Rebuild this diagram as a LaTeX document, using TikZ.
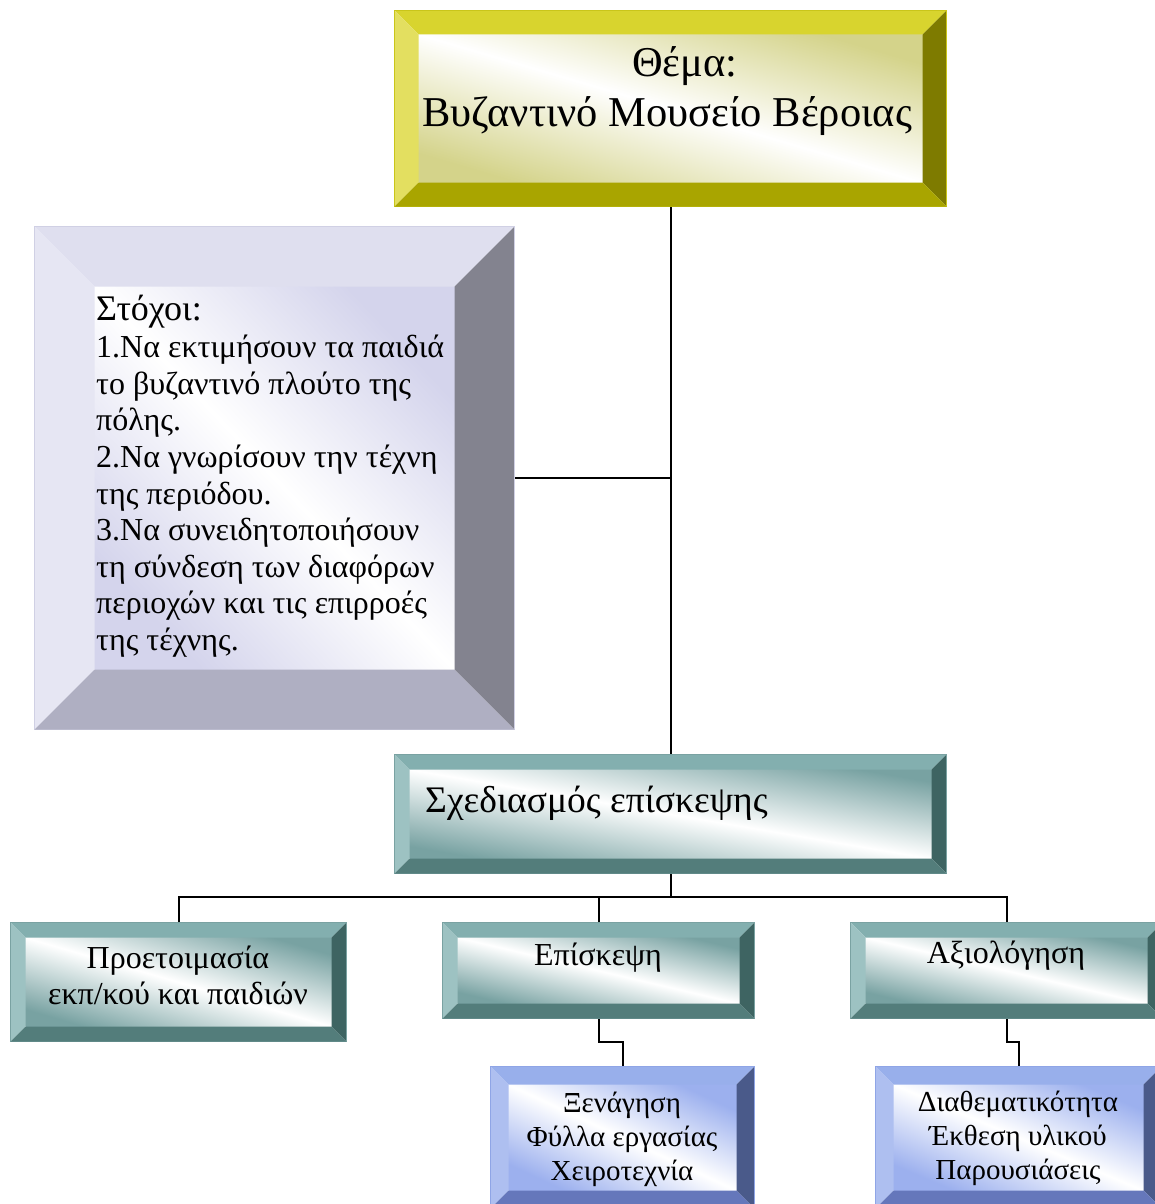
\documentclass[tikz,border=0pt]{standalone}
\usepackage{fontspec}
\setmainfont{Liberation Serif}
\usetikzlibrary{calc}
\definecolor{yT}{HTML}{D8D42E}\definecolor{yL}{HTML}{E3DF60}\definecolor{yR}{HTML}{7E7B00}\definecolor{yB}{HTML}{A9A500}\definecolor{yI}{HTML}{D4D38A}\definecolor{yD}{HTML}{C9C51A}
\definecolor{gT}{HTML}{DFDFEF}\definecolor{gL}{HTML}{E6E6F3}\definecolor{gR}{HTML}{83838F}\definecolor{gB}{HTML}{AFAFC2}\definecolor{gI}{HTML}{D4D4EC}\definecolor{gD}{HTML}{D0D0E4}
\definecolor{tT}{HTML}{83AFAF}\definecolor{tL}{HTML}{9DC2C2}\definecolor{tR}{HTML}{3E6462}\definecolor{tB}{HTML}{537D7B}\definecolor{tI}{HTML}{78A2A2}\definecolor{tD}{HTML}{7AA2A2}
\definecolor{bT}{HTML}{98AFEB}\definecolor{bL}{HTML}{AEBFF0}\definecolor{bR}{HTML}{4A5A8A}\definecolor{bB}{HTML}{6577BB}\definecolor{bI}{HTML}{9CB0EE}\definecolor{bD}{HTML}{8FA5E6}
\tikzset{
  sa/.store in=\shadeang, sa=0,
  bevel/.style n args={6}{rectangle, inner sep=0pt, draw=#6, line width=1pt,
    path picture={
      \coordinate (NW) at (path picture bounding box.north west);
      \coordinate (NE) at (path picture bounding box.north east);
      \coordinate (SW) at (path picture bounding box.south west);
      \coordinate (SE) at (path picture bounding box.south east);
      \coordinate (nw) at ([shift={(#1pt,-#1pt)}]NW);
      \coordinate (ne) at ([shift={(-#1pt,-#1pt)}]NE);
      \coordinate (sw) at ([shift={(#1pt,#1pt)}]SW);
      \coordinate (se) at ([shift={(-#1pt,#1pt)}]SE);
      \shade[top color=#5, bottom color=#5, middle color=white, shading angle=\shadeang] (nw) rectangle (se);
      \fill[#2] (NW) -- (NE) -- (ne) -- (nw) -- cycle;
      \fill[#3] (NW) -- (nw) -- (sw) -- (SW) -- cycle;
      \fill[#4!100] (NE) -- (SE) -- (se) -- (ne) -- cycle;
    }},
  ybox/.style={bevel={24}{yT}{yL}{yR}{yI}{yD}, postaction={path picture={\fill[yB] (SW) -- (SE) -- (se) -- (sw) -- cycle;}}},
  gbox/.style={bevel={60}{gT}{gL}{gR}{gI}{gD}, postaction={path picture={\fill[gB] (SW) -- (SE) -- (se) -- (sw) -- cycle;}}},
  tbox/.style={bevel={15}{tT}{tL}{tR}{tI}{tD}, postaction={path picture={\fill[tB] (SW) -- (SE) -- (se) -- (sw) -- cycle;}}},
  bbox/.style={bevel={18}{bT}{bL}{bR}{bI}{bD}, postaction={path picture={\fill[bB] (SW) -- (SE) -- (se) -- (sw) -- cycle;}}},
  txt/.style={inner sep=0pt, anchor=base, text=black},
  conn/.style={draw=black, line width=2pt},
}
\begin{document}
\begin{tikzpicture}[x=1pt, y=-1pt]
\useasboundingbox (0,0) rectangle (1155,1204);
\fill[white] (0,0) rectangle (1155,1204);
\clip (0,0) rectangle (1155,1204);
\coordinate (bus) at (670,897);
% boxes
\node[sa=-16.4, ybox, minimum width=552pt, minimum height=196pt, anchor=north west] (title) at (394,10) {};
\node[sa=-46.8, gbox, minimum width=480pt, minimum height=503pt, anchor=north west] (goals) at (34,226) {};
\node[sa=-9.7, tbox, minimum width=552pt, minimum height=119pt, anchor=north west] (plan) at (394,754) {};
\node[sa=-16.2, tbox, minimum width=336pt, minimum height=119pt, anchor=north west] (prep) at (10,922) {};
\node[sa=-13.2, tbox, minimum width=312pt, minimum height=96pt, anchor=north west] (visit) at (442,922) {};
\node[sa=-13.2, tbox, minimum width=312pt, minimum height=96pt, anchor=north west] (eval) at (850,922) {};
\node[sa=-24.9, bbox, minimum width=264pt, minimum height=142pt, anchor=north west] (tour) at (490,1066) {};
\node[sa=-23, bbox, minimum width=286pt, minimum height=142pt, anchor=north west] (them) at (875,1066) {};
% connectors
\draw[conn] (title.south) -- (plan.north);
\draw[conn] (goals.east) -- (goals.east -| title.south);
\draw[conn] (plan.south) -- (plan.south |- bus);
\draw[conn] (prep.north) -- (prep.north |- bus) -- (eval.north |- bus) -- (eval.north);
\draw[conn] (visit.north) -- (visit.north |- bus);
\draw[conn] (visit.south) -- (visit.south |- 0,1042) -- (tour.north |- 0,1042) -- (tour.north);
\draw[conn] (eval.south) -- (eval.south |- 0,1042) -- (them.north |- 0,1042) -- (them.north);
% texts
\node[txt, font=\fontsize{42.5}{49}\selectfont] (tt1) at (685,77) {Θέμα:};
\node[txt, font=\fontsize{42.5}{49}\selectfont] (tt2) at (667,127) {Βυζαντινό Μουσείο Βέροιας};
\node[txt, anchor=base west, font=\fontsize{36}{40}\selectfont] (g0) at (96,320) {Στόχοι:};
\foreach \t [count=\i] in {1.Να εκτιμήσουν τα παιδιά, το βυζαντινό πλούτο της, πόλης., 2.Να γνωρίσουν την τέχνη, της περιόδου., 3.Να συνειδητοποιήσουν, τη σύνδεση των διαφόρων, περιοχών και τις επιρροές, της τέχνης.}
  \node[txt, anchor=base west, font=\fontsize{32}{36}\selectfont] (g\i) at (96,{321+36.6*\i}) {\t};
\node[txt, anchor=base west, font=\fontsize{37.5}{42}\selectfont] (pt) at (425,812) {Σχεδιασμός επίσκεψης};
\node[txt, font=\fontsize{32}{36}\selectfont] (pr1) at (178,968) {Προετοιμασία};
\node[txt, font=\fontsize{32}{36}\selectfont] (pr2) at (178,1004) {εκπ/κού και παιδιών};
\node[txt, font=\fontsize{32}{36}\selectfont] (vt) at (598,965) {Επίσκεψη};
\node[txt, font=\fontsize{32}{36}\selectfont] (et) at (1006,963) {Αξιολόγηση};
\node[txt, font=\fontsize{29}{34}\selectfont] (to1) at (622,1112) {Ξενάγηση};
\node[txt, font=\fontsize{29}{34}\selectfont] (to2) at (622,1146) {Φύλλα εργασίας};
\node[txt, font=\fontsize{29}{34}\selectfont] (to3) at (622,1180) {Χειροτεχνία};
\node[txt, font=\fontsize{29}{34}\selectfont] (th1) at (1018,1111) {Διαθεματικότητα};
\node[txt, font=\fontsize{29}{34}\selectfont] (th2) at (1018,1145) {Έκθεση υλικού};
\node[txt, font=\fontsize{29}{34}\selectfont] (th3) at (1018,1179) {Παρουσιάσεις};
\end{tikzpicture}
\end{document}
